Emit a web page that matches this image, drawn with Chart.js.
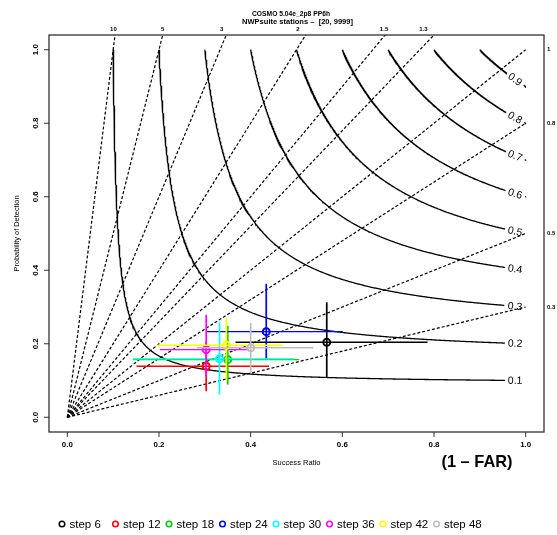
<!DOCTYPE html>
<html><head><meta charset="utf-8">
<script src="https://cdn.jsdelivr.net/npm/chart.js@4"></script>
<style>html,body{margin:0;padding:0;background:#fff}canvas{display:block}</style>
</head><body>
<canvas id="c" width="557" height="535" style="width:557px;height:535px"></canvas>
<script>
// ---- data ----
const titleLines = ['COSMO 5.04e_2p8 PP6h', 'NWPsuite stations \u2013  [20, 9999]'];
const xTitle = 'Success Ratio';
const yTitle = 'Probability of Detection';
const farLabel = '(1 \u2013 FAR)';
const tickValues = [0, 0.2, 0.4, 0.6, 0.8, 1.0];
const tickLabels = ['0.0', '0.2', '0.4', '0.6', '0.8', '1.0'];
const csiLevels = [0.1, 0.2, 0.3, 0.4, 0.5, 0.6, 0.7, 0.8, 0.9];
const biasTop = [10, 5, 3, 2, 1.5, 1.3];
const biasTopLabels = ['10', '5', '3', '2', '1.5', '1.3'];
const biasTopLabelSR = [0.1006, 0.208, 0.337, 0.503, 0.691, 0.777];
const biasRight = [1, 0.8, 0.5, 0.3];
const biasRightLabels = ['1', '0.8', '0.5', '0.3'];
const steps = ['step 6', 'step 12', 'step 18', 'step 24', 'step 30', 'step 36', 'step 42', 'step 48'];
const srValues  = [0.566, 0.303, 0.350, 0.434, 0.332, 0.303, 0.347, 0.400];
const podValues = [0.204, 0.139, 0.157, 0.233, 0.159, 0.184, 0.196, 0.189];
const srLow   = [0.367, 0.151, 0.143, 0.303, 0.143, 0.202, 0.195, 0.283];
const srHigh  = [0.786, 0.440, 0.506, 0.601, 0.495, 0.396, 0.469, 0.537];
const podLow  = [0.110, 0.071, 0.089, 0.159, 0.062, 0.110, 0.100, 0.121];
const podHigh = [0.313, 0.205, 0.249, 0.363, 0.258, 0.279, 0.270, 0.257];
const colors = ['#000000', '#FF0000', '#00CD00', '#0000FF', '#00FFFF', '#FF00FF', '#FFFF00', '#BEBEBE'];

// ---- helpers ----
const AXMIN = -0.04, AXMAX = 1.04;
const LABEL_SR = 0.977;
const FONT = '"Liberation Sans", Arial, Helvetica, sans-serif';
function csiPod(c, sr) { return 1 / (1 / c + 1 - 1 / sr); }
function csiCurve(c) {
  const N = 300, pts = [];
  for (let i = 0; i <= N; i++) {
    const pod = 1 - (1 - c) * i / N;
    pts.push({x: 1 / (1 / c + 1 - 1 / pod), y: pod});
    const sr = c + (1 - c) * i / N;
    pts.push({x: sr, y: csiPod(c, sr)});
  }
  pts.sort((a, b) => a.x - b.x);
  return pts.filter((p, i) => i === 0 || p.x - pts[i - 1].x > 1e-6);
}

const datasets = [];
// bias lines (dashed)
[...biasTop, ...biasRight].forEach(b => {
  const end = b > 1 ? {x: 1.2 / b, y: 1.2} : {x: 1, y: b};
  datasets.push({type: 'scatter', data: [{x: 0, y: 0}, end], showLine: true, pointRadius: 0,
    borderColor: '#000', borderWidth: 1.2, borderDash: [3, 2], order: 30});
});
// CSI contours
csiLevels.forEach(c => {
  datasets.push({type: 'scatter', data: csiCurve(c), showLine: true, pointRadius: 0,
    borderColor: '#000', borderWidth: 1.3, order: 25,
    segment: {
      borderColor: ctx => {
        const ch = ctx.chart;
        const lx = ch.scales.x.getPixelForValue(LABEL_SR);
        const ly = ch.scales.y.getPixelForValue(csiPod(c, LABEL_SR));
        const mx = (ctx.p0.x + ctx.p1.x) / 2, my = (ctx.p0.y + ctx.p1.y) / 2;
        return Math.hypot(mx - lx, my - ly) < 10.5 ? 'rgba(0,0,0,0)' : '#000';
      }
    }});
});
// series: points + error bars
steps.forEach((s, i) => {
  const ord = 8 - i;
  datasets.push({type: 'scatter', label: s, data: [{x: srValues[i], y: podValues[i]}],
    pointRadius: 3.5, pointBorderWidth: 2, pointBackgroundColor: 'rgba(0,0,0,0)',
    pointBorderColor: colors[i], borderColor: colors[i], order: ord});
  datasets.push({type: 'scatter', data: [{x: srLow[i], y: podValues[i]}, {x: srHigh[i], y: podValues[i]}],
    showLine: true, pointRadius: 0, borderColor: colors[i], borderWidth: 1.4, order: ord});
  datasets.push({type: 'scatter', data: [{x: srValues[i], y: podLow[i]}, {x: srValues[i], y: podHigh[i]}],
    showLine: true, pointRadius: 0, borderColor: colors[i], borderWidth: 1.7, order: ord});
});

function fitText(ctx, text, x, y, w, align) {
  const m = ctx.measureText(text).width;
  const sx = w ? w / m : 1;
  ctx.save();
  ctx.translate(x, y);
  ctx.scale(sx, 1);
  ctx.textAlign = align || 'center';
  ctx.fillText(text, 0, 0);
  ctx.restore();
}

const decor = {
  id: 'decor',
  afterDraw(chart) {
    const {ctx, chartArea: a, scales: {x, y}} = chart;
    ctx.save();
    ctx.fillStyle = '#000';
    ctx.textBaseline = 'middle';
    // box
    ctx.strokeStyle = '#333';
    ctx.lineWidth = 1.3;
    ctx.strokeRect(a.left, a.top, a.right - a.left, a.bottom - a.top);
    // ticks
    ctx.lineWidth = 1;
    ctx.font = 'bold 7.5px ' + FONT;
    tickValues.forEach((v, i) => {
      const px = x.getPixelForValue(v);
      ctx.beginPath(); ctx.moveTo(px, a.bottom); ctx.lineTo(px, a.bottom + 5); ctx.stroke();
      fitText(ctx, tickLabels[i], px, a.bottom + 13, 11);
      const py = y.getPixelForValue(v);
      ctx.beginPath(); ctx.moveTo(a.left - 5, py); ctx.lineTo(a.left, py); ctx.stroke();
      ctx.save(); ctx.translate(a.left - 13, py); ctx.rotate(-Math.PI / 2);
      fitText(ctx, tickLabels[i], 0, 0, 11); ctx.restore();
    });
    // bias labels
    ctx.font = 'bold 6px ' + FONT;
    biasTopLabels.forEach((t, i) => {
      fitText(ctx, t, x.getPixelForValue(biasTopLabelSR[i]), a.top - 6, 0);
    });
    biasRightLabels.forEach((t, i) => {
      fitText(ctx, t, a.right + 3, y.getPixelForValue(biasRight[i]), 0, 'left');
    });
    // CSI labels
    ctx.font = '10.5px ' + FONT;
    csiLevels.forEach(c => {
      const p0x = x.getPixelForValue(LABEL_SR - 0.004), p0y = y.getPixelForValue(csiPod(c, LABEL_SR - 0.004));
      const p1x = x.getPixelForValue(LABEL_SR + 0.004), p1y = y.getPixelForValue(csiPod(c, LABEL_SR + 0.004));
      const ang = Math.atan2(p1y - p0y, p1x - p0x);
      ctx.save();
      ctx.translate(x.getPixelForValue(LABEL_SR), y.getPixelForValue(csiPod(c, LABEL_SR)));
      ctx.rotate(ang);
      ctx.textAlign = 'center';
      ctx.fillText(String(c), 0, 0.5);
      ctx.restore();
    });
    // titles
    ctx.font = 'bold 7px ' + FONT;
    fitText(ctx, titleLines[0], 291, 14.5, 78);
    fitText(ctx, titleLines[1], 297.5, 22.2, 111);
    ctx.font = '7px ' + FONT;
    fitText(ctx, xTitle, (a.left + a.right) / 2, 463.5, 48);
    ctx.save(); ctx.translate(17, (a.top + a.bottom) / 2); ctx.rotate(-Math.PI / 2);
    fitText(ctx, yTitle, 0, 0, 76); ctx.restore();
    ctx.font = 'bold 17px ' + FONT;
    fitText(ctx, farLabel, 477, 462, 71);
    // legend
    ctx.font = '11.5px ' + FONT;
    steps.forEach((s, i) => {
      const cx = 62 + 53.5 * i, cy = 524;
      ctx.strokeStyle = colors[i]; ctx.lineWidth = 1.5;
      ctx.beginPath(); ctx.arc(cx, cy, 2.8, 0, Math.PI * 2); ctx.stroke();
      ctx.fillStyle = '#000';
      ctx.textAlign = 'left';
      ctx.fillText(s, cx + 7.5, cy + 0.5);
    });
    ctx.restore();
  }
};

new Chart(document.getElementById('c'), {
  type: 'scatter',
  data: {datasets},
  options: {
    responsive: false, animation: false, devicePixelRatio: 1,
    layout: {padding: {left: 49, right: 13, top: 35, bottom: 103}},
    scales: {
      x: {type: 'linear', min: AXMIN, max: AXMAX, display: false},
      y: {type: 'linear', min: AXMIN, max: AXMAX, display: false}
    },
    plugins: {legend: {display: false}, tooltip: {enabled: false}},
    events: []
  },
  plugins: [decor]
});
</script>
</body></html>
